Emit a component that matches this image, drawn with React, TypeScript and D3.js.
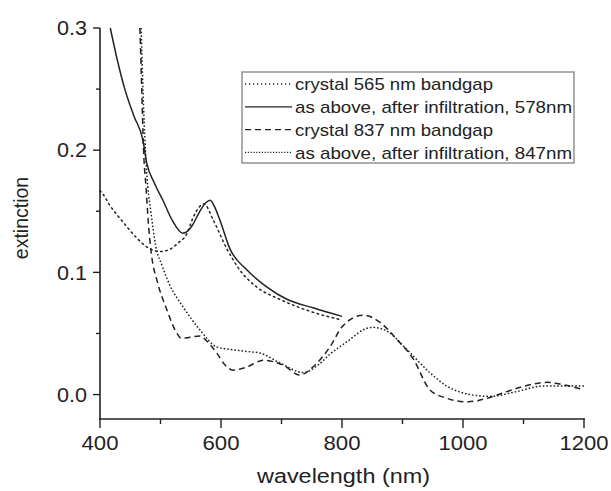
import React from "react";
import { scaleLinear, line, curveMonotoneX, range } from "d3";

// wavelength (nm) / extinction pairs
const crystal565X = [400, 405, 416, 430, 445, 461, 480, 499, 516, 529, 544, 554, 565, 572, 587, 610, 631, 659, 697, 742, 800];
const crystal565Y = [0.167, 0.164, 0.155, 0.146, 0.137, 0.128, 0.12, 0.117, 0.119, 0.124, 0.132, 0.145, 0.154, 0.156, 0.143, 0.119, 0.102, 0.088, 0.078, 0.069, 0.061];

const infil578X = [417, 429, 441, 456, 471, 477, 490, 504, 519, 537, 552, 565, 575, 582, 590, 598, 615, 643, 676, 709, 752, 800];
const infil578Y = [0.3, 0.273, 0.25, 0.228, 0.208, 0.19, 0.173, 0.159, 0.143, 0.132, 0.138, 0.15, 0.157, 0.159, 0.153, 0.143, 0.119, 0.102, 0.088, 0.078, 0.071, 0.064];

const crystal837X = [466, 469, 472, 476, 480, 485, 495, 510, 524, 535, 549, 565, 578, 593, 607, 620, 640, 670, 703, 730, 755, 780, 801, 835, 863, 891, 918, 945, 973, 1006, 1040, 1073, 1111, 1139, 1166, 1200];
const crystal837Y = [0.3, 0.25, 0.2, 0.17, 0.14, 0.115, 0.092, 0.07, 0.053, 0.046, 0.047, 0.048, 0.043, 0.034, 0.024, 0.02, 0.022, 0.028, 0.024, 0.016, 0.024, 0.039, 0.056, 0.065, 0.059, 0.045, 0.029, 0.004, -0.003, -0.006, -0.003, 0.0025, 0.008, 0.01, 0.008, 0.004];

const infil847X = [468, 471, 475, 479, 484, 492, 503, 515, 537, 565, 593, 615, 648, 664, 697, 736, 760, 780, 813, 835, 851, 874, 907, 945, 973, 1012, 1045, 1089, 1132, 1166, 1200];
const infil847Y = [0.3, 0.25, 0.2, 0.17, 0.15, 0.122, 0.105, 0.09, 0.072, 0.053, 0.039, 0.037, 0.035, 0.034, 0.026, 0.018, 0.024, 0.033, 0.045, 0.053, 0.055, 0.052, 0.037, 0.018, 0.007, 0.0, -0.0015, 0.0025, 0.007, 0.007, 0.007];

const legendLabels = [
  "crystal 565 nm bandgap",
  "as above, after infiltration, 578nm",
  "crystal 837 nm bandgap",
  "as above, after infiltration, 847nm",
];
const legendWidths = [198, 277, 198, 277];
const xTicks = [400, 600, 800, 1000, 1200];
const xMinor = [500, 700, 900, 1100];
const yTicks = [0.0, 0.1, 0.2, 0.3];
const yMinor = [0.05, 0.15, 0.25];

const W = 611;
const H = 491;
const font = "'Liberation Sans', Arial, Helvetica, sans-serif";
const ink = "#222";

const App: React.FC = () => {
  const x = scaleLinear().domain([400, 1200]).range([100, 584]);
  const y = scaleLinear().domain([-0.02, 0.3]).range([419, 28]);

  const path = (xs: number[], ys: number[]) =>
    line<number>()
      .x((d) => x(xs[d]))
      .y((d) => y(ys[d]))
      .curve(curveMonotoneX)(range(xs.length)) as string;

  const series = [
    { d: path(crystal565X, crystal565Y), dash: "1.6 3.6", cap: "round" },
    { d: path(infil578X, infil578Y), dash: "", cap: "butt" },
    { d: path(crystal837X, crystal837Y), dash: "6 4", cap: "butt" },
    { d: path(infil847X, infil847Y), dash: "1.6 2", cap: "butt" },
  ];

  const legendX = 242;
  const legendY = 72;
  const rowH = 22.8;

  return (
    <svg width={W} height={H} style={{ position: "absolute", left: 0, top: 0, background: "#fff" }}>
      {series.map((s, i) => (
        <path
          key={i}
          d={s.d}
          fill="none"
          stroke={ink}
          strokeWidth={1.5}
          strokeDasharray={s.dash || undefined}
          strokeLinecap={s.cap as any}
        />
      ))}

      {/* axes */}
      <line x1={100} x2={100} y1={28} y2={420} stroke={ink} strokeWidth={1.6} />
      <line x1={99} x2={585} y1={419} y2={419} stroke={ink} strokeWidth={1.6} />
      {yTicks.map((t) => (
        <g key={`y${t}`}>
          <line x1={93} x2={100} y1={y(t)} y2={y(t)} stroke={ink} strokeWidth={1.4} />
          <text x={57} y={y(t)} dy="0.36em" textLength={30} lengthAdjust="spacingAndGlyphs"
            fontFamily={font} fontSize={20} fill={ink}>
            {t.toFixed(1)}
          </text>
        </g>
      ))}
      {yMinor.map((t) => (
        <line key={`ym${t}`} x1={96} x2={100} y1={y(t)} y2={y(t)} stroke={ink} strokeWidth={1.4} />
      ))}
      {xTicks.map((t) => {
        const w = t >= 1000 ? 49 : 37;
        return (
          <g key={`x${t}`}>
            <line x1={x(t)} x2={x(t)} y1={419} y2={428} stroke={ink} strokeWidth={1.4} />
            <text x={x(t) - w / 2} y={450} textLength={w} lengthAdjust="spacingAndGlyphs"
              fontFamily={font} fontSize={20} fill={ink}>
              {t}
            </text>
          </g>
        );
      })}
      {xMinor.map((t) => (
        <line key={`xm${t}`} x1={x(t)} x2={x(t)} y1={419} y2={424} stroke={ink} strokeWidth={1.4} />
      ))}

      <text x={257} y={483} textLength={173} lengthAdjust="spacingAndGlyphs"
        fontFamily={font} fontSize={19.5} fill={ink}>
        wavelength (nm)
      </text>
      <text
        transform="translate(28,218) rotate(-90)"
        textAnchor="middle"
        fontFamily={font}
        fontSize={19.5}
        fill={ink}
      >
        extinction
      </text>

      {/* legend */}
      <rect x={legendX} y={legendY} width={332} height={91} fill="#fff" stroke="#777" strokeWidth={1.2} />
      {legendLabels.map((lab, i) => {
        const cy = legendY + 12 + i * rowH;
        const s = series[i];
        return (
          <g key={lab}>
            <line
              x1={legendX + 3}
              x2={legendX + 50}
              y1={cy}
              y2={cy}
              stroke={ink}
              strokeWidth={1.3}
              strokeDasharray={i === 0 ? "1.2 2.8" : i === 3 ? "1.2 1.6" : s.dash || undefined}
            />
            <text x={legendX + 53} y={cy} dy="0.36em" textLength={legendWidths[i]}
              lengthAdjust="spacingAndGlyphs" fontFamily={font} fontSize={17} fill={ink}>
              {lab}
            </text>
          </g>
        );
      })}
    </svg>
  );
};

export default App;
